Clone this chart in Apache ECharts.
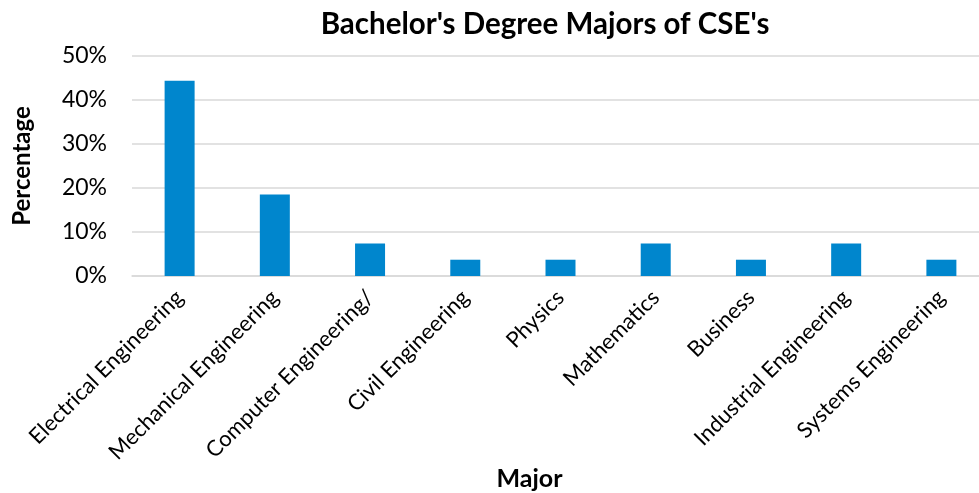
<!DOCTYPE html>
<html>
<head>
<meta charset="utf-8">
<script src="https://cdn.jsdelivr.net/npm/echarts@6/dist/echarts.min.js"></script>
<style>
  html, body { margin: 0; padding: 0; background: #fff; }
  #chart { width: 979px; height: 493px; }
</style>
</head>
<body>
<div id="chart"></div>
<script>
// majors along the x axis
const majors = [
  'Electrical Engineering',
  'Mechanical Engineering',
  'Computer Engineering/',
  'Civil Engineering',
  'Physics',
  'Mathematics',
  'Business',
  'Industrial Engineering',
  'Systems Engineering'
];
// share of CSEs per major, in percent
const shares = [44.4, 18.5, 7.4, 3.7, 3.7, 7.4, 3.7, 7.4, 3.7];
const yTicks = [0, 10, 20, 30, 40, 50];

const font = 'Lato, "Open Sans", sans-serif';
const chart = echarts.init(document.getElementById('chart'));

const option = {
  animation: false,
  title: {
    text: "Bachelor's Degree Majors of CSE's",
    left: 540,
    top: 4,
    textAlign: 'center',
    textStyle: { fontFamily: font, fontSize: 29.5, fontWeight: 'bold', color: '#000' }
  },
  grid: { left: 132, top: 56, width: 857, height: 220, containLabel: false, outerBoundsMode: 'none' },
  xAxis: {
    type: 'category',
    data: majors,
    name: 'Major',
    nameLocation: 'middle',
    nameGap: 186,
    nameTextStyle: { fontFamily: font, fontSize: 25, fontWeight: 'bold', color: '#000', padding: [0, 62, 0, 0] },
    axisLine: { lineStyle: { color: '#d9d9d9', width: 1.5 } },
    axisTick: { show: false },
    axisLabel: { rotate: 45, margin: 18, fontFamily: font, fontSize: 22, color: '#000', interval: 0 }
  },
  yAxis: {
    type: 'value',
    min: yTicks[0],
    max: yTicks[yTicks.length - 1],
    interval: 10,
    name: 'Percentage',
    nameLocation: 'middle',
    nameGap: 98,
    nameTextStyle: { fontFamily: font, fontSize: 24, fontWeight: 'bold', color: '#000' },
    axisLine: { show: false },
    axisTick: { show: false },
    axisLabel: { margin: 25, fontFamily: font, fontSize: 23, color: '#000', formatter: '{value}%' },
    splitLine: { lineStyle: { color: '#d9d9d9', width: 1.5 } }
  },
  series: [{
    type: 'bar',
    data: shares,
    barWidth: 30,
    itemStyle: { color: '#0086cd' }
  }]
};
chart.setOption(option);
</script>
</body>
</html>
